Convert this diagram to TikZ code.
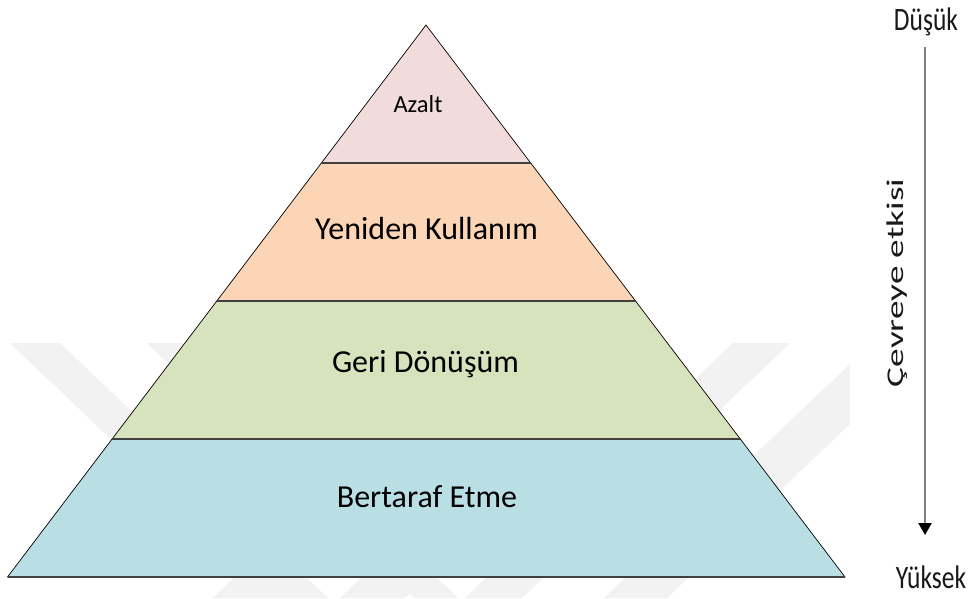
\documentclass[tikz,border=0pt]{standalone}
\usepackage{fontspec}
\usepackage{graphicx}
\setmainfont{Carlito}
\usetikzlibrary{arrows.meta}

\definecolor{layerpink}{HTML}{F2DCDB}
\definecolor{layerorange}{HTML}{FBD5B5}
\definecolor{layergreen}{HTML}{D7E3BD}
\definecolor{layerblue}{HTML}{B9DFE4}
\definecolor{markgray}{HTML}{F2F2F2}
\definecolor{axisgray}{HTML}{7F7F7F}
\definecolor{sepgray}{HTML}{404040}

\begin{document}
\begin{tikzpicture}[x=1pt, y=-1pt,
  layer/.style={draw=black, line width=0.7pt, line join=miter},
  sepline/.style={draw=sepgray, line width=1.3pt},
  lbl/.style={font=\fontsize{32}{37}\selectfont, text=black, inner sep=0pt, anchor=base},
  sidelbl/.style={font=\fontsize{25.5}{30}\selectfont, text=black!90, inner sep=0pt, anchor=base},
  axisarrow/.style={draw=axisgray, line width=2.2pt,
    -{Triangle[width=13pt, length=12pt, color=black]}}]

% page
\fill[white] (0,0) rectangle (973,598);
\useasboundingbox (0,0) rectangle (973,598);

% faint background watermark bands
\begin{scope}
  \clip (0,343) rectangle (850,598);
  \fill[markgray] (10,343) -- (60,343) -- (328,598) -- (278,598) -- cycle;
  \fill[markgray] (147,343) -- (190,343) -- (458,598) -- (415,598) -- cycle;
  \fill[markgray] (733,343) -- (790,343) -- (522,598) -- (465,598) -- cycle;
  \fill[markgray] (872,343) -- (935,343) -- (667,598) -- (604,598) -- cycle;
  \fill[markgray] (213,598) -- (277,598) -- (400,480) -- (336,480) -- cycle;
  \fill[markgray] (340,598) -- (405,598) -- (528,480) -- (463,480) -- cycle;
\end{scope}

% pyramid corner points
\coordinate (apex) at (426,25);
\coordinate (l1) at (321.4,163);  \coordinate (r1) at (530.7,163);
\coordinate (l2) at (216.8,301);  \coordinate (r2) at (635.5,301);
\coordinate (l3) at (112.1,439);  \coordinate (r3) at (740.3,439);
\coordinate (l4) at (7.5,577);    \coordinate (r4) at (845,577);

% layers
\path[layer, fill=layerpink]   (apex) -- (r1) -- (l1) -- cycle;
\path[layer, fill=layerorange] (l1) -- (r1) -- (r2) -- (l2) -- cycle;
\path[layer, fill=layergreen]  (l2) -- (r2) -- (r3) -- (l3) -- cycle;
\path[layer, fill=layerblue]   (l3) -- (r3) -- (r4) -- (l4) -- cycle;

% horizontal layer boundaries
\draw[sepline] (l1) -- (r1);
\draw[sepline] (l2) -- (r2);
\draw[sepline] (l3) -- (r3);
\draw[sepline] (l4) -- (r4);

% layer labels
\node[lbl, font=\fontsize{24.5}{29}\selectfont] (azalt) at (418,112) {Azalt};
\node[lbl] (yeniden) at (426.5,239) {Yeniden Kullanım};
\node[lbl] (geri) at (425.5,372) {Geri Dönüşüm};
\node[lbl] (bertaraf) at (427,507) {Bertaraf Etme};

% impact scale on the right
\node[sidelbl] (dusuk) at (926,30) {\scalebox{1}[1.28]{Düşük}};
\node[sidelbl] (yuksek) at (931,588) {\scalebox{1}[1.28]{Yüksek}};
\coordinate (axtop) at (925,47);
\coordinate (axtip) at (925,535);
\draw[axisarrow] (axtop) -- (axtip);
\node[sidelbl, font=\fontsize{24}{29}\selectfont, rotate=90] (etki) at (903,283)
  {\scalebox{1.55}[1]{Çevreye etkisi}};

\end{tikzpicture}
\end{document}
